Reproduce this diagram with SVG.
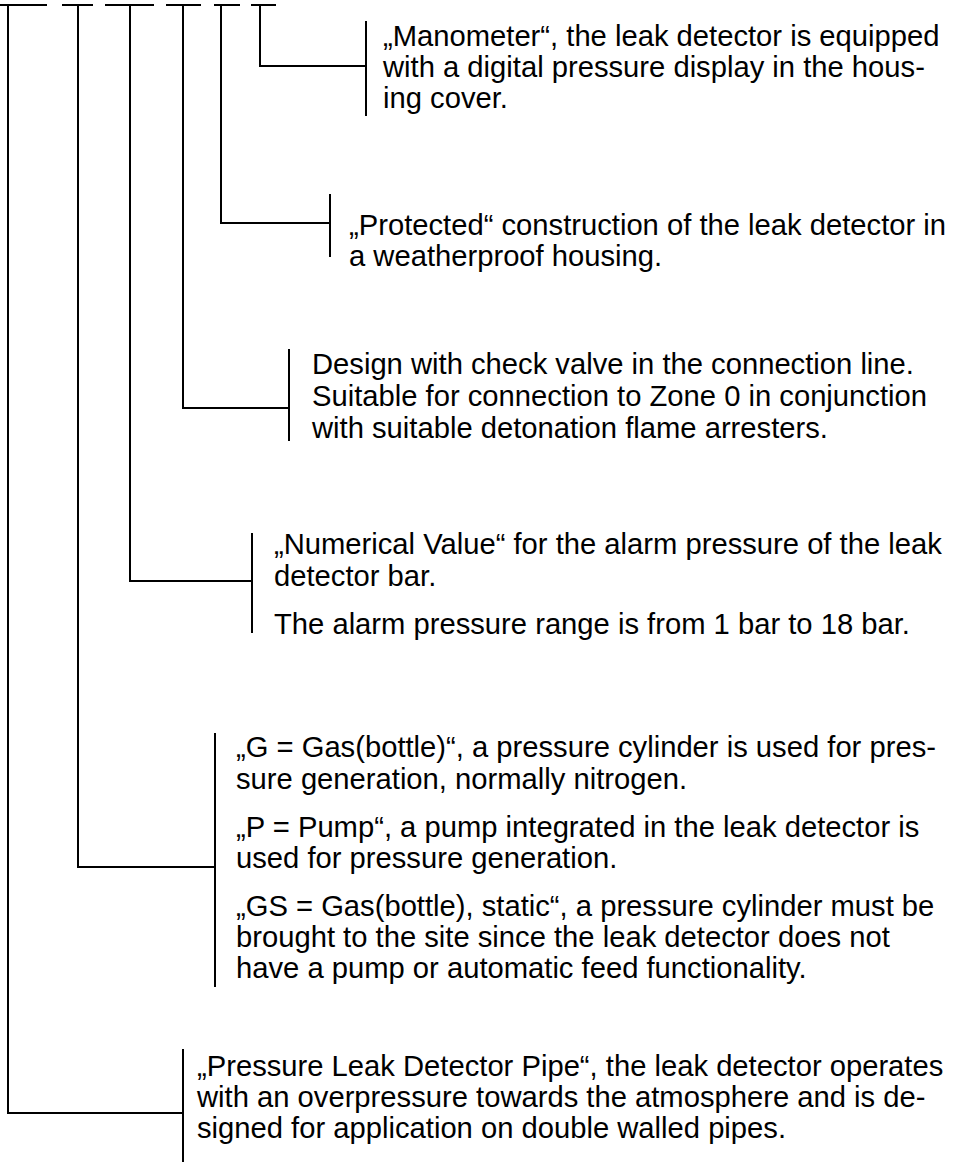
<svg xmlns="http://www.w3.org/2000/svg" width="953" height="1173" viewBox="0 0 953 1173">
<style>
.ln{stroke:#000;stroke-width:2;fill:none}
.t{font-family:"Liberation Sans",Arial,sans-serif;font-size:29.2px;fill:#000}
</style>
<rect width="953" height="1173" fill="#fff"/>
<g id="code-bars" class="ln">
<path d="M0 5H47M62 5H93M105 5H154M166 5H201M214 5H240M251 5H276"/>
</g>
<g id="connectors" class="ln">
<path d="M260 5V66H366"/>
<path d="M221 5V223H330"/>
<path d="M183 5V408H289"/>
<path d="M130 5V581H252"/>
<path d="M78 5V867H215"/>
<path d="M8 5V1113H183"/>
</g>
<g id="n-manometer">
<path class="ln" d="M366 21V116"/>
<text class="t" x="383" y="46">„Manometer“, the leak detector is equipped</text>
<text class="t" x="383" y="77">with a digital pressure display in the hous-</text>
<text class="t" x="383" y="108">ing cover.</text>
</g>
<g id="n-protected">
<path class="ln" d="M330 194V257"/>
<text class="t" x="349" y="235">„Protected“ construction of the leak detector in</text>
<text class="t" x="349" y="266">a weatherproof housing.</text>
</g>
<g id="n-design">
<path class="ln" d="M289 349V441"/>
<text class="t" x="312" y="374">Design with check valve in the connection line.</text>
<text class="t" x="312" y="406">Suitable for connection to Zone 0 in conjunction</text>
<text class="t" x="312" y="438">with suitable detonation flame arresters.</text>
</g>
<g id="n-numerical">
<path class="ln" d="M252 533V633"/>
<text class="t" x="274" y="554">„Numerical Value“ for the alarm pressure of the leak</text>
<text class="t" x="274" y="586">detector bar.</text>
<text class="t" x="274" y="634">The alarm pressure range is from 1 bar to 18 bar.</text>
</g>
<g id="n-generation">
<path class="ln" d="M215 733V987"/>
<text class="t" x="236" y="757">„G = Gas(bottle)“, a pressure cylinder is used for pres-</text>
<text class="t" x="236" y="789">sure generation, normally nitrogen.</text>
<text class="t" x="236" y="837">„P = Pump“, a pump integrated in the leak detector is</text>
<text class="t" x="236" y="868">used for pressure generation.</text>
<text class="t" x="236" y="916">„GS = Gas(bottle), static“, a pressure cylinder must be</text>
<text class="t" x="236" y="947">brought to the site since the leak detector does not</text>
<text class="t" x="236" y="978">have a pump or automatic feed functionality.</text>
</g>
<g id="n-pipe">
<path class="ln" d="M183 1049V1162"/>
<text class="t" x="197" y="1076">„Pressure Leak Detector Pipe“, the leak detector operates</text>
<text class="t" x="197" y="1107">with an overpressure towards the atmosphere and is de-</text>
<text class="t" x="197" y="1138">signed for application on double walled pipes.</text>
</g>
</svg>
